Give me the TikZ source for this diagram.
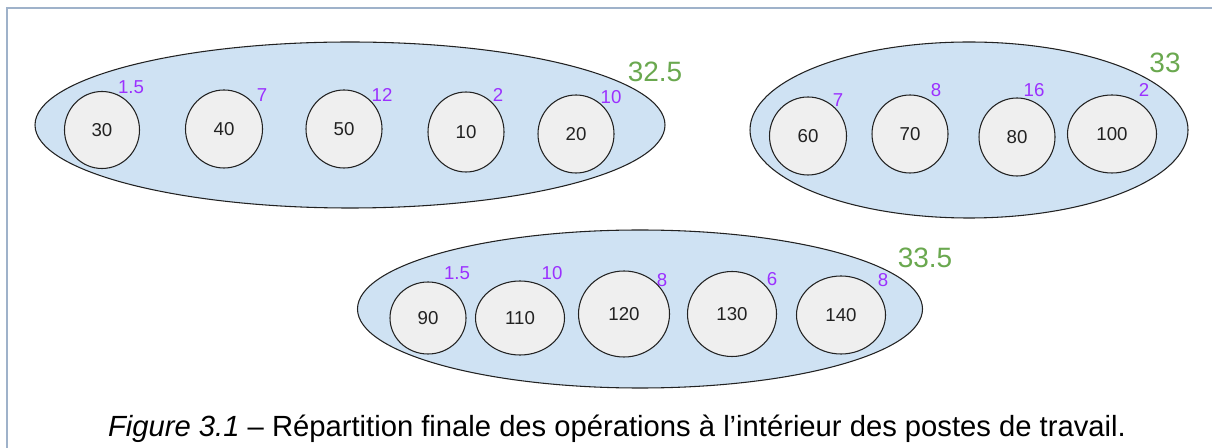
\documentclass[tikz,border=0pt]{standalone}
\usepackage{fontspec}
\setmainfont{Liberation Sans}
\usetikzlibrary{shapes.geometric}
\definecolor{framec}{HTML}{9FB2CA}
\definecolor{grpfill}{HTML}{CFE2F3}
\definecolor{opfill}{HTML}{EFEFEF}
\definecolor{timec}{HTML}{9B30FF}
\definecolor{sumc}{HTML}{6AA84F}
\definecolor{edgec}{HTML}{222222}
\tikzset{
  oval/.style 2 args={ellipse, draw=edgec, line width=0.8pt, fill=grpfill, inner sep=0pt,
    minimum width=#1*0.75pt, minimum height=#2*0.75pt},
  op/.style 2 args={ellipse, draw=edgec, line width=0.8pt, fill=opfill, inner sep=0pt,
    minimum width=#1*0.75pt, minimum height=#2*0.75pt, text=edgec, font=\fontsize{14}{16}\selectfont},
  tlab/.style={text=timec, inner sep=0pt, font=\fontsize{14}{16}\selectfont},
  slab/.style={text=sumc, inner sep=0pt, font=\fontsize{21}{24}\selectfont},
}
\begin{document}
\begin{tikzpicture}[x=0.75pt,y=-0.75pt]
\useasboundingbox (0,0) rectangle (1212,448);
\draw[framec, line width=1.6pt] (7,448) -- (7,8) -- (1212,8);
% group 1
\node[oval={630}{166}] (g1) at (350,125) {};
\node[op={75}{77}] (o30) at (102,130) {30};
\node[op={77}{78}] (o40) at (224,129) {40};
\node[op={76}{78}] (o50) at (344,129) {50};
\node[op={76}{80}] (o10) at (466,132) {10};
\node[op={76}{78}] (o20) at (576,134) {20};
\node[tlab] (t30) at (131,87) {1.5};
\node[tlab] (t40) at (262,95) {7};
\node[tlab] (t50) at (382,95) {12};
\node[tlab] (t10) at (498,95) {2};
\node[tlab] (t20) at (611,97) {10};
\node[slab] (s1) at (655,72) {32.5};
% group 2
\node[oval={438}{176}] (g2) at (969,130) {};
\node[op={77}{78}] (o60) at (808,136) {60};
\node[op={76}{78}] (o70) at (910,134) {70};
\node[op={76}{78}] (o80) at (1017,137) {80};
\node[op={89}{78}] (o100) at (1112,134) {100};
\node[tlab] (t60) at (838,100) {7};
\node[tlab] (t70) at (936,90) {8};
\node[tlab] (t80) at (1034,90) {16};
\node[tlab] (t100) at (1144,90) {2};
\node[slab] (s2) at (1165,63) {33};
% group 3
\node[oval={565}{158}] (g3) at (640,309) {};
\node[op={76}{72}] (o90) at (428,318) {90};
\node[op={89}{74}] (o110) at (520,318) {110};
\node[op={91}{86}] (o120) at (624,314) {120};
\node[op={89}{85}] (o130) at (732,314) {130};
\node[op={89}{78}] (o140) at (841,315) {140};
\node[tlab] (t90) at (457,273) {1.5};
\node[tlab] (t110) at (552,273) {10};
\node[tlab] (t120) at (662,280) {8};
\node[tlab] (t130) at (772,279) {6};
\node[tlab] (t140) at (883,280) {8};
\node[slab] (s3) at (925,258) {33.5};
% caption
\node[inner sep=0pt, font=\fontsize{21.9}{24}\selectfont] (cap) at (617,429)
  {\textit{Figure 3.1} – Répartition finale des opérations à l’intérieur des postes de travail.};
\end{tikzpicture}
\end{document}
